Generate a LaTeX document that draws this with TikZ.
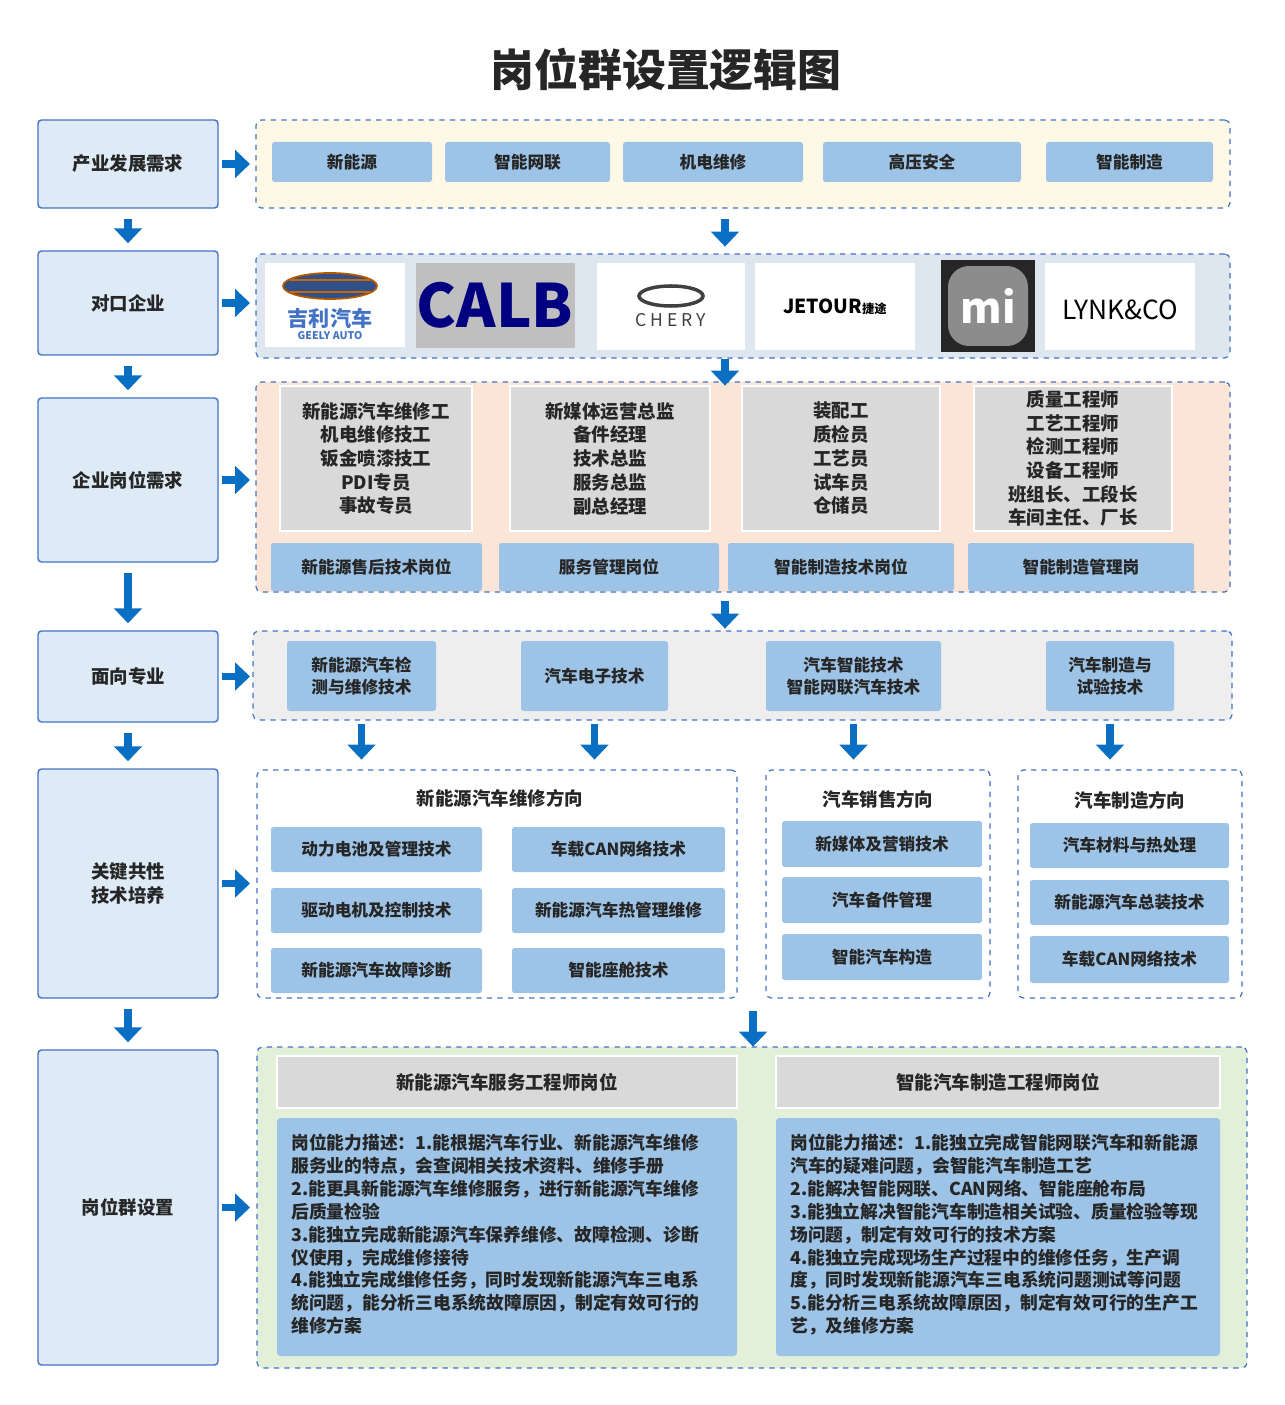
\documentclass[tikz,border=0pt]{standalone}
\usepackage{fontspec}
\setmainfont{Noto Sans CJK SC}
\usetikzlibrary{arrows.meta,calc,shapes.geometric}
\definecolor{arrblue}{RGB}{10,111,194}
\definecolor{leftfill}{RGB}{222,235,247}
\definecolor{leftline}{RGB}{68,114,196}
\definecolor{itemblue}{RGB}{157,195,230}
\definecolor{cream}{RGB}{253,249,230}
\definecolor{greyblue}{RGB}{222,230,239}
\definecolor{peach}{RGB}{251,229,214}
\definecolor{lightgrey}{RGB}{238,238,238}
\definecolor{palegreen}{RGB}{226,240,217}
\definecolor{midgrey}{RGB}{217,217,217}
\definecolor{txtgrey}{RGB}{38,38,38}
% box from corner to corner, in pixel units
\newcommand{\bx}[7]{\node[#6,minimum width={(#4-#2)*0.02cm},minimum height={(#5-#3)*0.02cm}] (#1) at ({(#2+#4)/2},{(#3+#5)/2}) {#7};}
\tikzset{
  leftbox/.style={draw=leftline,fill=leftfill,line width=0.8pt,rounded corners=2pt,inner sep=0pt,align=center,
    font=\fontsize{10.5}{14}\selectfont\bfseries,text=txtgrey},
  region/.style={draw=leftline,dashed,line width=0.7pt,rounded corners=3pt,inner sep=0pt},
  itembox/.style={fill=itemblue,rounded corners=1.5pt,inner sep=0pt,align=center,
    font=\fontsize{9.5}{12.5}\selectfont\bfseries,text=txtgrey},
  greybox/.style={fill=midgrey,draw=white,line width=1.5pt,inner sep=0pt,align=center,
    font=\fontsize{10.5}{13.5}\selectfont\bfseries,text=txtgrey},
  headbox/.style={fill=midgrey,draw=white,line width=1.5pt,inner sep=0pt,
    font=\fontsize{10.5}{13}\selectfont\bfseries,text=txtgrey},
  parabox/.style={fill=itemblue,rounded corners=2pt,inner sep=0pt,
    font=\fontsize{10.1}{13}\selectfont\bfseries,text=txtgrey},
  grouptitle/.style={font=\fontsize{10.5}{13}\selectfont\bfseries,text=txtgrey},
  logo/.style={fill=white,inner sep=0pt},
  bigarr/.style={draw=arrblue,line width=0.15cm,-{Triangle[length=0.3cm,width=0.55cm]}},
}
\begin{document}
\begin{tikzpicture}[x=0.02cm,y=-0.02cm]
\useasboundingbox[fill=white] (0,0) rectangle (1284,1405);
% Title
\node[font=\fontsize{25}{30}\selectfont\bfseries,text=txtgrey] (title) at (666,70) {岗位群设置逻辑图};

% Left column
\bx{l1}{38}{120}{218}{208}{leftbox}{产业发展需求}
\bx{l2}{38}{251}{218}{355}{leftbox}{对口企业}
\bx{l3}{38}{398}{218}{562}{leftbox}{企业岗位需求}
\bx{l4}{38}{631}{218}{722}{leftbox}{面向专业}
\bx{l5}{38}{769}{218}{998}{leftbox}{关键共性\\技术培养}
\bx{l6}{38}{1050}{218}{1365}{leftbox}{岗位群设置}

% Regions
\bx{r1}{256}{120}{1230}{208}{region,fill=cream}{}
\bx{r2}{256}{254}{1230}{358}{region,fill=greyblue}{}
\bx{r3}{256}{382}{1230}{592}{region,fill=peach}{}
\bx{r4}{253}{631}{1232}{720}{region,fill=lightgrey}{}
\bx{r5a}{257}{770}{737}{998}{region,fill=white}{}
\bx{r5b}{766}{770}{990}{998}{region,fill=white}{}
\bx{r5c}{1018}{770}{1242}{998}{region,fill=white}{}
\bx{r6}{257}{1047}{1247}{1368}{region,fill=palegreen}{}

% Row 1: industry
\bx{n1}{272}{142}{432}{182}{itembox}{新能源}
\bx{n2}{445}{142}{610}{182}{itembox}{智能网联}
\bx{n3}{623}{142}{803}{182}{itembox}{机电维修}
\bx{n4}{823}{142}{1021}{182}{itembox}{高压安全}
\bx{n5}{1046}{142}{1213}{182}{itembox}{智能制造}

% Row 2: companies
\bx{geely}{265}{263}{405}{347}{logo}{}
\draw[fill=leftline!70!black,draw=orange!70!black,line width=1pt] (330,286) ellipse (47 and 13);
\draw[orange!80!black,line width=1pt] (290,280) -- (370,280) (290,292) -- (370,292);
\node[font=\fontsize{12}{13}\selectfont\bfseries,text=leftline] at (330,318) {吉利汽车};
\node[font=\fontsize{6}{7}\selectfont\bfseries,text=leftline] at (330,336) {GEELY AUTO};
\bx{calb}{416}{263}{575}{348}{logo,fill=black!25}{}
\node[font=\fontsize{34}{34}\selectfont\bfseries,text=blue!50!black] at (495,305) {CALB};
\bx{chery}{597}{263}{745}{350}{logo}{}
\draw[black!75,line width=2pt] (671,296) ellipse (32 and 10);
\node[font=\fontsize{10}{11}\selectfont,text=black!75] at (671,320) {C H E R Y};
\bx{jetour}{755}{263}{915}{350}{logo}{}
\node[font=\fontsize{11}{12}\selectfont\bfseries] at (835,307) {JETOUR\fontsize{7}{8}\selectfont 捷途};
\bx{xiaomi}{941}{260}{1035}{352}{logo,fill=black!85}{}
\node[fill=black!45,rounded corners=12pt,minimum width=1.6cm,minimum height=1.6cm,
  font=\fontsize{24}{24}\selectfont\bfseries,text=white] at (988,306) {mi};
\bx{lynk}{1045}{263}{1195}{350}{logo}{}
\node[font=\fontsize{15}{16}\selectfont] at (1120,310) {LYNK\&CO};

% Row 3: job demand
\bx{g1}{280}{386}{472}{531}{greybox}{新能源汽车维修工\\机电维修技工\\钣金喷漆技工\\PDI专员\\事故专员}
\bx{g2}{510}{386}{710}{531}{greybox}{新媒体运营总监\\备件经理\\技术总监\\服务总监\\副总经理}
\bx{g3}{742}{386}{940}{531}{greybox}{装配工\\质检员\\工艺员\\试车员\\仓储员}
\bx{g4}{974}{386}{1172}{531}{greybox}{质量工程师\\工艺工程师\\检测工程师\\设备工程师\\班组长、工段长\\车间主任、厂长}
\bx{p1}{271}{543}{482}{591}{itembox}{新能源售后技术岗位}
\bx{p2}{499}{543}{719}{591}{itembox}{服务管理岗位}
\bx{p3}{728}{543}{954}{591}{itembox}{智能制造技术岗位}
\bx{p4}{968}{543}{1194}{591}{itembox}{智能制造管理岗}

% Row 4: majors
\bx{m1}{287}{641}{436}{711}{itembox}{新能源汽车检\\测与维修技术}
\bx{m2}{521}{641}{668}{711}{itembox}{汽车电子技术}
\bx{m3}{766}{641}{941}{711}{itembox}{汽车智能技术\\智能网联汽车技术}
\bx{m4}{1046}{641}{1174}{711}{itembox}{汽车制造与\\试验技术}

% Row 5: key skills
\node[grouptitle] (t5a) at (500,798) {新能源汽车维修方向};
\node[grouptitle] (t5b) at (878,799) {汽车销售方向};
\node[grouptitle] (t5c) at (1130,800) {汽车制造方向};
\bx{k1}{271}{827}{482}{872}{itembox}{动力电池及管理技术}
\bx{k2}{512}{827}{725}{872}{itembox}{车载CAN网络技术}
\bx{k3}{271}{888}{482}{933}{itembox}{驱动电机及控制技术}
\bx{k4}{512}{888}{725}{933}{itembox}{新能源汽车热管理维修}
\bx{k5}{271}{948}{482}{993}{itembox}{新能源汽车故障诊断}
\bx{k6}{512}{948}{725}{993}{itembox}{智能座舱技术}
\bx{s1}{782}{821}{982}{867}{itembox}{新媒体及营销技术}
\bx{s2}{782}{877}{982}{923}{itembox}{汽车备件管理}
\bx{s3}{782}{934}{982}{980}{itembox}{智能汽车构造}
\bx{c1}{1030}{823}{1229}{868}{itembox}{汽车材料与热处理}
\bx{c2}{1030}{880}{1229}{925}{itembox}{新能源汽车总装技术}
\bx{c3}{1030}{936}{1229}{983}{itembox}{车载CAN网络技术}

% Row 6: job groups
\bx{h1}{277}{1056}{737}{1108}{headbox}{新能源汽车服务工程师岗位}
\bx{h2}{776}{1056}{1220}{1108}{headbox}{智能汽车制造工程师岗位}
\bx{d1}{277}{1118}{737}{1356}{parabox}{}
\bx{d2}{776}{1118}{1220}{1356}{parabox}{}
\node[anchor=north west,parabox,fill=none,align=left] (d1t) at (291,1134) {岗位能力描述：1.能根据汽车行业、新能源汽车维修\\服务业的特点，会查阅相关技术资料、维修手册\\2.能更具新能源汽车维修服务，进行新能源汽车维修\\后质量检验\\3.能独立完成新能源汽车保养维修、故障检测、诊断\\仪使用，完成维修接待\\4.能独立完成维修任务，同时发现新能源汽车三电系\\统问题，能分析三电系统故障原因，制定有效可行的\\维修方案};
\node[anchor=north west,parabox,fill=none,align=left] (d2t) at (790,1134) {岗位能力描述：1.能独立完成智能网联汽车和新能源\\汽车的疑难问题，会智能汽车制造工艺\\2.能解决智能网联、CAN网络、智能座舱布局\\3.能独立解决智能汽车制造相关试验、质量检验等现\\场问题，制定有效可行的技术方案\\4.能独立完成现场生产过程中的维修任务，生产调\\度，同时发现新能源汽车三电系统问题测试等问题\\5.能分析三电系统故障原因，制定有效可行的生产工\\艺，及维修方案};

% Arrows: left column
\foreach \a/\b in {l1/l2,l2/l3,l3/l4,l4/l5,l5/l6}
  \draw[bigarr,shorten <=6pt,shorten >=4pt] (\a) -- (\b);
\foreach \a/\b in {l1/r1,l2/r2,l3/r3,l4/r4,l5/r5a,l6/r6}
  \draw[bigarr] (\a.east -| 222,0) -- (\a.east -| 250,0);
% Arrows: right column
\coordinate (ax) at (725,0);
\draw[bigarr] (r1.south -| ax) ++(0,10) -- ++(0,28);
\draw[bigarr] (r2.south -| ax) ++(0,0) -- ++(0,27);
\draw[bigarr] (r3.south -| ax) ++(0,8) -- ++(0,28);
\foreach \m in {m1,m2,m3,m4}
  \draw[bigarr] (r4.south -| \m) ++(0,3) -- ++(0,36);
\coordinate (ay) at (753,0);
\draw[bigarr] (r5a.south -| ay) ++(0,12) -- ++(0,36);
\end{tikzpicture}
\end{document}
